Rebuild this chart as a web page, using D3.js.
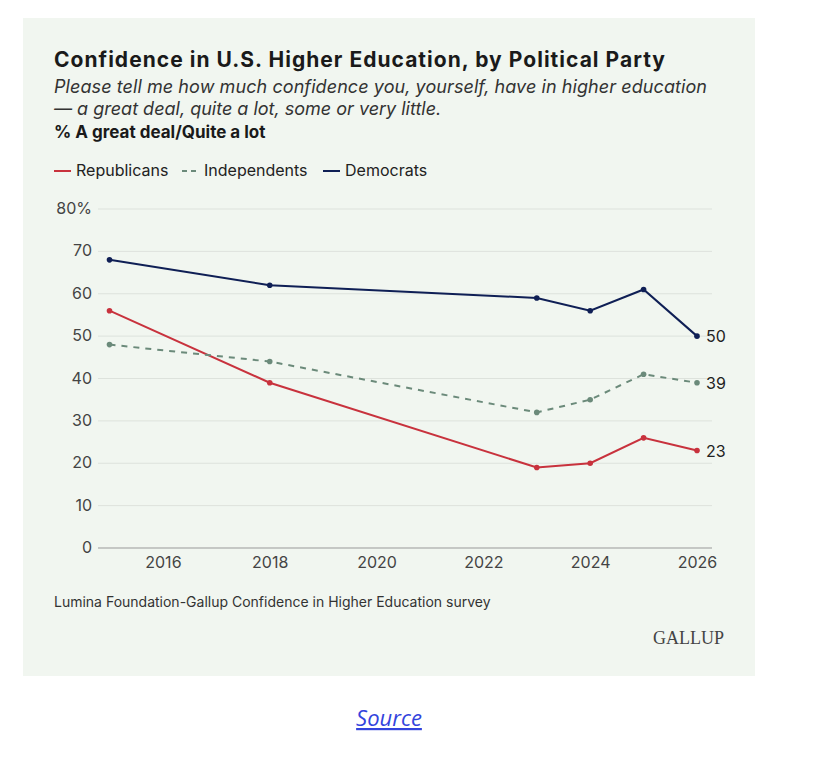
<!DOCTYPE html>
<html><head><meta charset="utf-8">
<script src="https://cdn.jsdelivr.net/npm/d3@7"></script>
<style>
body{margin:0;background:#fff;font-family:Inter,"Noto Sans",sans-serif;}
</style></head><body>
<svg id="chart" width="818" height="762"></svg>
<script>
const years = [2015, 2018, 2023, 2024, 2025, 2026];
const republicans = [56, 39, 19, 20, 26, 23];
const independents = [48, 44, 32, 35, 41, 39];
const democrats = [68, 62, 59, 56, 61, 50];
const xTicks = [2016, 2018, 2020, 2022, 2024, 2026];
const yTicks = [0, 10, 20, 30, 40, 50, 60, 70, 80];

const series = [
  {name: "Republicans", values: republicans, color: "#c8323d", dash: null},
  {name: "Independents", values: independents, color: "#6b8a7a", dash: "6,6"},
  {name: "Democrats", values: democrats, color: "#0f1f55", dash: null}
];

const svg = d3.select("#chart");
svg.append("rect").attr("x", 23).attr("y", 18).attr("width", 732).attr("height", 658).attr("fill", "#f1f6f0");

// titres
svg.append("text").attr("x", 54).attr("y", 67).attr("font-size", 21).attr("font-weight", 700).attr("fill", "#1a1a1a")
  .attr("textLength", 611).text("Confidence in U.S. Higher Education, by Political Party");
svg.append("text").attr("x", 54).attr("y", 93).attr("font-size", 18).attr("font-style", "italic").attr("fill", "#333")
  .attr("textLength", 653).text("Please tell me how much confidence you, yourself, have in higher education");
svg.append("text").attr("x", 54).attr("y", 115).attr("font-size", 18).attr("font-style", "italic").attr("fill", "#333")
  .text("\u2014 a great deal, quite a lot, some or very little.");
svg.append("text").attr("x", 54).attr("y", 138).attr("font-size", 17).attr("font-weight", 700).attr("fill", "#1a1a1a")
  .text("% A great deal/Quite a lot");

// légende
const legendX = [54, 182, 323];
series.forEach((s, i) => {
  const g = svg.append("g").attr("transform", `translate(${legendX[i]},171)`);
  g.append("line").attr("x1", 0).attr("x2", 17).attr("y1", 0).attr("y2", 0)
    .attr("stroke", s.color).attr("stroke-width", 2).attr("stroke-dasharray", s.dash ? "5,4" : null);
  g.append("text").attr("x", 22).attr("y", 5).attr("font-size", 16).attr("fill", "#222").text(s.name);
});

const x = d3.scaleLinear().domain([2015, 2026]).range([109.5, 697]);
const y = d3.scaleLinear().domain([0, 80]).range([548, 209]);

// grille
svg.append("g").selectAll("line").data(yTicks).join("line")
  .attr("x1", 98).attr("x2", 712).attr("y1", d => y(d)).attr("y2", d => y(d))
  .attr("stroke", d => d === 0 ? "#999" : "#dde2dc").attr("stroke-width", 1);
svg.append("g").selectAll("text").data(yTicks).join("text")
  .attr("x", 92).attr("y", d => y(d) + 5).attr("text-anchor", "end")
  .attr("font-size", 16).attr("fill", "#444")
  .text(d => d === 80 ? "80%" : d);

const xAxis = svg.append("g").attr("transform", `translate(0,${y(0)})`)
  .call(d3.axisBottom(x).tickValues(xTicks).tickFormat(d3.format("d")).tickSize(0).tickPadding(9));
xAxis.select(".domain").remove();
xAxis.selectAll("text").attr("font-size", 16).attr("fill", "#444").attr("font-family", "Inter,'Noto Sans',sans-serif");

const line = d3.line().x((d, i) => x(years[i])).y(d => y(d));
series.forEach(s => {
  svg.append("path").datum(s.values).attr("d", line).attr("fill", "none")
    .attr("stroke", s.color).attr("stroke-width", 2).attr("stroke-dasharray", s.dash);
  svg.append("g").selectAll("circle").data(s.values).join("circle")
    .attr("cx", (d, i) => x(years[i])).attr("cy", d => y(d)).attr("r", 2.8).attr("fill", s.color);
  const last = s.values[s.values.length - 1];
  svg.append("text").attr("x", x(2026) + 9).attr("y", y(last) + 6)
    .attr("font-size", 16).attr("fill", "#222").text(last);
});

svg.append("text").attr("x", 54).attr("y", 607).attr("font-size", 14).attr("fill", "#333")
  .text("Lumina Foundation-Gallup Confidence in Higher Education survey");
svg.append("text").attr("x", 724).attr("y", 644).attr("text-anchor", "end")
  .attr("font-family", "'Liberation Serif',serif").attr("font-size", 18).attr("fill", "#444").text("GALLUP");
svg.append("text").attr("x", 389).attr("y", 726).attr("text-anchor", "middle")
  .attr("font-family", "'Open Sans',sans-serif").attr("font-size", 22).attr("font-style", "italic")
  .attr("fill", "#3344dd").attr("text-decoration", "underline").text("Source");
</script></body></html>
